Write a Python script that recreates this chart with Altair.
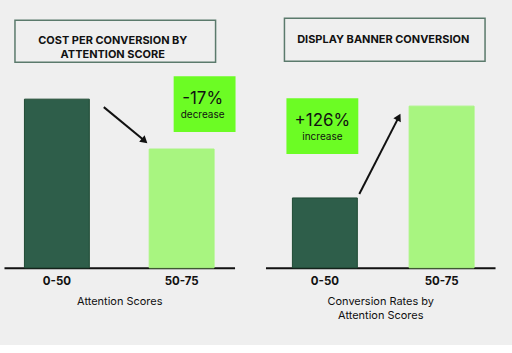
import altair as alt
import pandas as pd

# ---- data ----
categories = ["0-50", "50-75"]
cost_values = [169, 119]        # cost per conversion (relative)
conv_values = [70, 162]         # conversion rate (relative)
bar_colors = ["#2e5e4a", "#a8f580"]
bar_strokes = ["#1e4a33", "#a8f580"]

left_title = ["COST PER CONVERSION BY", "ATTENTION SCORE"]
right_title = "DISPLAY BANNER CONVERSION"
left_badge = ["-17%", "decrease"]
right_badge = ["+126%", "increase"]
left_xtitle = "Attention Scores"
right_xtitle = ["Conversion Rates by", "Attention Scores"]

BG = "#efefef"
FONT = "Inter"
Y_MAX = 268
one = pd.DataFrame({"k": [0]})


def bars(values, xtitle, width, pad_inner, pad_outer, align):
    df = pd.DataFrame({"cat": categories, "val": values})
    return alt.Chart(df).mark_bar(strokeWidth=1).encode(
        x=alt.X("cat:N", sort=categories,
                scale=alt.Scale(paddingInner=pad_inner, paddingOuter=pad_outer, align=align),
                axis=alt.Axis(title=xtitle, labelAngle=0, ticks=False, domainColor="#111111",
                              domainWidth=2, labelFont=FONT, labelFontWeight="bold",
                              labelFontSize=11.5, labelColor="#111111", labelPadding=8,
                              titleFont=FONT, titleFontWeight="normal", titleFontSize=11,
                              titleColor="#111111", titlePadding=8, titleLineHeight=14,
                              grid=False)),
        y=alt.Y("val:Q", scale=alt.Scale(domain=[0, Y_MAX], nice=False), axis=None),
        color=alt.Color("cat:N", scale=alt.Scale(domain=categories, range=bar_colors), legend=None),
        stroke=alt.Stroke("cat:N", scale=alt.Scale(domain=categories, range=bar_strokes), legend=None),
    )


def box(x1, x2, y1, y2, fill, stroke=None, sw=0):
    kw = dict(fill=fill)
    if stroke:
        kw.update(stroke=stroke, strokeWidth=sw)
    return alt.Chart(one).mark_rect(**kw).encode(
        x=alt.value(x1), x2=alt.value(x2), y=alt.value(y1), y2=alt.value(y2))


def label(text, x, y, size, weight="normal", line_height=None):
    kw = dict(text=text, font=FONT, fontSize=size, fontWeight=weight, color="#111111",
              align="center", baseline="middle")
    if line_height:
        kw["lineHeight"] = line_height
    return alt.Chart(one).mark_text(**kw).encode(x=alt.value(x), y=alt.value(y))


def arrow(x0, y0, x1, y1, angle):
    line = alt.Chart(one).mark_rule(color="#111111", strokeWidth=2).encode(
        x=alt.value(x0), y=alt.value(y0), x2=alt.value(x1), y2=alt.value(y1))
    head = alt.Chart(one).mark_point(shape="triangle", filled=True, color="#111111",
                                     size=70, angle=angle, opacity=1).encode(
        x=alt.value(x1), y=alt.value(y1))
    return line + head


left = alt.layer(
    box(11, 212, 20, 62, BG, "#5b7a6c", 1.5),
    label(left_title, 109, 41, 11, "bold", 13.5),
    bars(cost_values, left_xtitle, 231, 0.48, 0.164, 0.5),
    arrow(100, 107, 140, 140, 130.7),
    box(170, 232, 76, 132, "#6cfc24"),
    label(left_badge[0], 199, 99, 17, "normal"),
    label(left_badge[1], 199, 115, 10, "normal"),
).properties(width=231, height=268)

right = alt.layer(
    box(19, 220, 18, 61, BG, "#5b7a6c", 1.5),
    label(right_title, 118, 39.5, 11, "bold"),
    bars(conv_values, right_xtitle, 230, 0.444, 0.205, 0.5625),
    arrow(94, 194, 133, 118, 27.5),
    box(21, 93, 98, 154, "#6cfc24"),
    label(right_badge[0], 57, 120.5, 17, "normal"),
    label(right_badge[1], 57, 137, 10, "normal"),
).properties(width=230, height=268)

chart = alt.hconcat(left, right, spacing=30).properties(
    background=BG,
    padding={"left": 4, "top": 0, "right": 17, "bottom": 24},
).configure_view(strokeWidth=0)

chart.save("out.html", embed_options={"renderer": "svg", "actions": False})
